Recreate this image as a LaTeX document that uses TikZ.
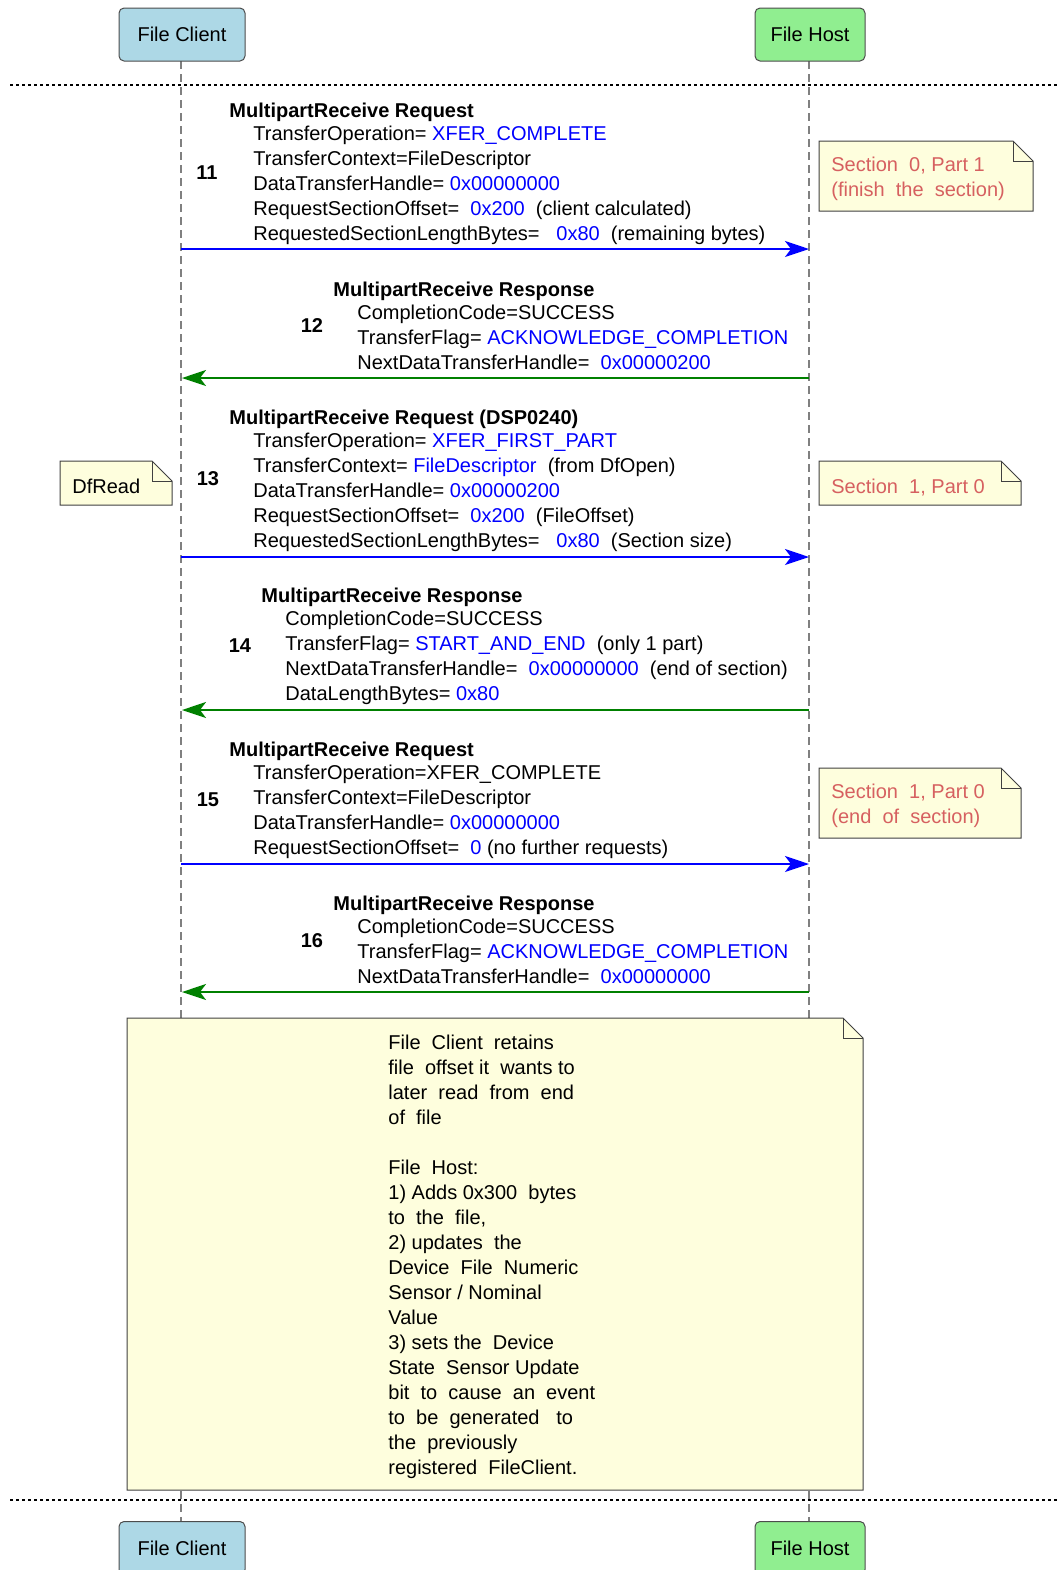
\documentclass[tikz,border=0pt]{standalone}
\usepackage{fontspec}
\setmainfont{Liberation Sans}
\usetikzlibrary{arrows.meta}
\definecolor{notefill}{RGB}{254,254,221}
\definecolor{notetext}{RGB}{214,96,96}
\definecolor{clientfill}{RGB}{173,216,230}
\definecolor{hostfill}{RGB}{144,238,144}
\definecolor{respgreen}{RGB}{0,128,0}
\tikzset{
	actor/.style={draw=black!70, line width=0.5pt, rounded corners=2.5pt, minimum height=26.5pt, inner sep=0pt, font=\fontsize{10pt}{12.5pt}\selectfont},
	lifeline/.style={draw=gray, line width=0.8pt, dash pattern=on 4pt off 2.5pt},
	divider/.style={draw=black, line width=0.7pt, dash pattern=on 1.5pt off 1.5pt},
	req/.style={draw=blue, line width=1pt, -{Stealth[length=12pt,width=8pt,inset=3pt]}},
	resp/.style={draw=respgreen, line width=1pt, -{Stealth[length=12pt,width=8pt,inset=3pt]}},
	title/.style={anchor=base west, inner sep=0pt, font=\fontsize{10pt}{12.5pt}\selectfont\bfseries},
	body/.style={anchor=north west, inner sep=0pt, align=left, font=\fontsize{10pt}{12.5pt}\selectfont, execute at begin node={\rule{0pt}{8.5pt}}},
	num/.style={inner sep=0pt, font=\fontsize{10pt}{12.5pt}\selectfont\bfseries},
	note/.style={draw=black!75, fill=notefill, line width=0.5pt},
	notetxt/.style={body, text=notetext},
}
\begin{document}
\begin{tikzpicture}[x=0.5pt, y=-0.5pt]
	\useasboundingbox (0,0) rectangle (1059,1570);

	% lifelines
	\coordinate (ctop) at (181,61);
	\coordinate (cbot) at (181,1521);
	\coordinate (htop) at (809,61);
	\coordinate (hbot) at (809,1521);
	\draw[lifeline] (ctop) -- (cbot);
	\draw[lifeline] (htop) -- (hbot);

	% participants
	\node[actor, fill=clientfill, minimum width=63pt](client) at (182,34.5){File Client};
	\node[actor, fill=hostfill, minimum width=55pt](host) at (810,34.5){File Host};
	\node[actor, fill=clientfill, minimum width=63pt](client2) at (182,1548){File Client};
	\node[actor, fill=hostfill, minimum width=55pt](host2) at (810,1548){File Host};

	% dividers
	\coordinate (d1a) at (10,85);
	\coordinate (d1b) at (1059,85);
	\coordinate (d2a) at (10,1500);
	\coordinate (d2b) at (1059,1500);
	\draw[divider] (d1a) -- (d1b);
	\draw[divider] (d2a) -- (d2b);

	% 11
	\node[num](n11) at (207,173){11};
	\node[title](t11) at (229,117.5){MultipartReceive Request};
	\node[body](b11) at (253,125.5){TransferOperation= \textcolor{blue}{XFER\_COMPLETE}\\TransferContext=FileDescriptor\\DataTransferHandle= \textcolor{blue}{0x00000000}\\RequestSectionOffset=~ \textcolor{blue}{0x200}~ (client calculated)\\RequestedSectionLengthBytes=~~ \textcolor{blue}{0x80}~ (remaining bytes)};
	\coordinate (c11) at (181,249);
	\coordinate (h11) at (809,249);
	\draw[req] (c11) -- (h11);

	% 12
	\node[num](n12) at (312,326){12};
	\node[title](t12) at (333,296.5){MultipartReceive Response};
	\node[body](b12) at (357,304.5){CompletionCode=SUCCESS\\TransferFlag= \textcolor{blue}{ACKNOWLEDGE\_COMPLETION}\\NextDataTransferHandle=~ \textcolor{blue}{0x00000200}};
	\coordinate (h12) at (809,378);
	\coordinate (c12) at (182,378);
	\draw[resp] (h12) -- (c12);

	% 13
	\node[num](n13) at (208,479){13};
	\node[title](t13) at (229,424.5){MultipartReceive Request (DSP0240)};
	\node[body](b13) at (253,432.5){TransferOperation= \textcolor{blue}{XFER\_FIRST\_PART}\\TransferContext= \textcolor{blue}{FileDescriptor}~ (from DfOpen)\\DataTransferHandle= \textcolor{blue}{0x00000200}\\RequestSectionOffset=~ \textcolor{blue}{0x200}~ (FileOffset)\\RequestedSectionLengthBytes=~~ \textcolor{blue}{0x80}~ (Section size)};
	\coordinate (c13) at (181,557);
	\coordinate (h13) at (809,557);
	\draw[req] (c13) -- (h13);

	% 14
	\node[num](n14) at (240,646){14};
	\node[title](t14) at (261,602.5){MultipartReceive Response};
	\node[body](b14) at (285,610.5){CompletionCode=SUCCESS\\TransferFlag= \textcolor{blue}{START\_AND\_END}~ (only 1 part)\\NextDataTransferHandle=~ \textcolor{blue}{0x00000000}~ (end of section)\\DataLengthBytes= \textcolor{blue}{0x80}};
	\coordinate (h14) at (809,710);
	\coordinate (c14) at (182,710);
	\draw[resp] (h14) -- (c14);

	% 15
	\node[num](n15) at (208,800){15};
	\node[title](t15) at (229,756.5){MultipartReceive Request};
	\node[body](b15) at (253,764.5){TransferOperation=XFER\_COMPLETE\\TransferContext=FileDescriptor\\DataTransferHandle= \textcolor{blue}{0x00000000}\\RequestSectionOffset=~ \textcolor{blue}{0} (no further requests)};
	\coordinate (c15) at (181,864);
	\coordinate (h15) at (809,864);
	\draw[req] (c15) -- (h15);

	% 16
	\node[num](n16) at (312,941){16};
	\node[title](t16) at (333,910.5){MultipartReceive Response};
	\node[body](b16) at (357,918.5){CompletionCode=SUCCESS\\TransferFlag= \textcolor{blue}{ACKNOWLEDGE\_COMPLETION}\\NextDataTransferHandle=~ \textcolor{blue}{0x00000000}};
	\coordinate (h16) at (809,992);
	\coordinate (c16) at (182,992);
	\draw[resp] (h16) -- (c16);

	% notes
	\draw[note] (819,141) -- (1013,141) -- (1033,161) -- (1033,211) -- (819,211) -- cycle;
	\draw[note, fill=none] (1013,141) -- (1013,161) -- (1033,161);
	\node[notetxt](sec01) at (831,157){Section~ 0, Part 1\\(finish~ the~ section)};

	\draw[note] (60,461) -- (152,461) -- (172,481) -- (172,505) -- (60,505) -- cycle;
	\draw[note, fill=none] (152,461) -- (152,481) -- (172,481);
	\node[body](dfread) at (72,476){DfRead};

	\draw[note] (819,461) -- (1001,461) -- (1021,481) -- (1021,505) -- (819,505) -- cycle;
	\draw[note, fill=none] (1001,461) -- (1001,481) -- (1021,481);
	\node[notetxt](sec10) at (831,476){Section~ 1, Part 0};

	\draw[note] (819,768) -- (1001,768) -- (1021,788) -- (1021,838) -- (819,838) -- cycle;
	\draw[note, fill=none] (1001,768) -- (1001,788) -- (1021,788);
	\node[notetxt](sec10end) at (831,784){Section~ 1, Part 0\\(end~ of~ section)};

	\draw[note] (127,1018) -- (843,1018) -- (863,1038) -- (863,1490) -- (127,1490) -- cycle;
	\draw[note, fill=none] (843,1018) -- (843,1038) -- (863,1038);
	\node[body](retain) at (388,1035){File~ Client~ retains\\file~ offset it~ wants to\\later~ read~ from~ end\\of~ file\\[12.5pt]File~ Host:\\1) Adds 0x300~ bytes\\to~ the~ file,\\2) updates~ the\\Device~ File~ Numeric\\Sensor / Nominal\\Value\\3) sets the~ Device\\State~ Sensor Update\\bit~ to~ cause~ an~ event\\to~ be~ generated~~ to\\the~ previously\\registered~ FileClient.};
\end{tikzpicture}
\end{document}
